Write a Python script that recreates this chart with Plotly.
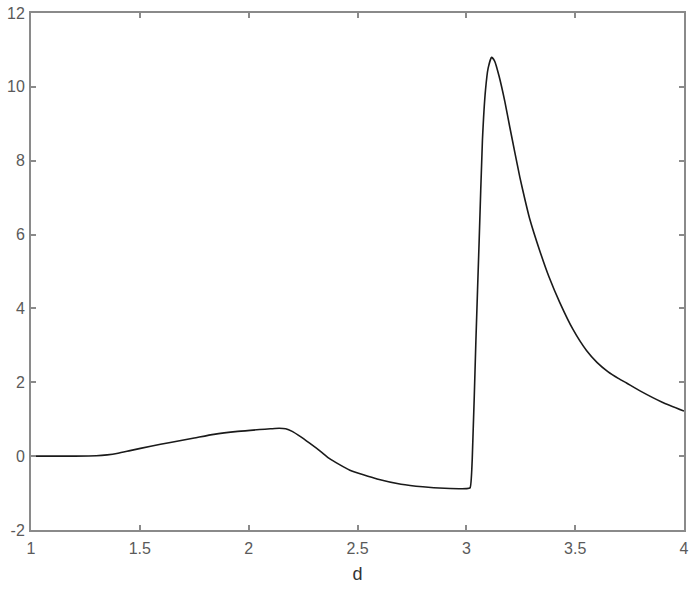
import plotly.graph_objects as go

# curve
d_vals = [1.0, 1.2, 1.3, 1.35, 1.4, 1.455, 1.55, 1.64, 1.75, 1.84, 1.95, 2.05, 2.10,
          2.14, 2.17, 2.20, 2.24, 2.28, 2.33, 2.37, 2.465, 2.59, 2.7, 2.8, 2.9, 3.0,
          3.017, 3.027, 3.044, 3.059, 3.074, 3.088, 3.10, 3.116, 3.13, 3.15, 3.177,
          3.20, 3.223, 3.246, 3.27, 3.29, 3.338, 3.38, 3.43, 3.49, 3.552, 3.60, 3.65,
          3.70, 3.736, 3.8, 3.9, 4.0]
f_vals = [0.0, 0.0, 0.01, 0.035, 0.08, 0.15, 0.27, 0.37, 0.49, 0.59, 0.67, 0.72, 0.74,
          0.755, 0.74, 0.67, 0.52, 0.35, 0.13, -0.06, -0.38, -0.62, -0.76, -0.83, -0.87,
          -0.88, -0.86, -0.1, 3.14, 5.85, 8.56, 9.91, 10.5, 10.8, 10.7, 10.3, 9.6,
          8.9, 8.22, 7.55, 6.93, 6.45, 5.55, 4.85, 4.15, 3.43, 2.86, 2.54, 2.29,
          2.10, 1.98, 1.76, 1.46, 1.22]

x_ticks = [1, 1.5, 2, 2.5, 3, 3.5, 4]
x_labels = ["1", "1.5", "2", "2.5", "3", "3.5", "4"]
y_ticks = [-2, 0, 2, 4, 6, 8, 10, 12]
y_labels = ["-2", "0", "2", "4", "6", "8", "10", "12"]

axis_color = "#8a8a8a"
font = "Liberation Sans, Arial, sans-serif"

fig = go.Figure()
fig.add_trace(go.Scatter(
    x=d_vals, y=f_vals, mode="lines",
    line=dict(color="#1a1a1a", width=1.6, shape="spline", smoothing=0.5),
    showlegend=False,
))

common = dict(
    showline=True, linecolor=axis_color, linewidth=2, mirror="allticks",
    ticks="inside", ticklen=5, tickwidth=1.5, tickcolor=axis_color,
    showgrid=False, zeroline=False, automargin=False,
    ticklabeloverflow="allow",
    tickfont=dict(family=font, size=16, color="#5a5a5a"),
)

fig.update_xaxes(range=[1, 4], tickvals=x_ticks, ticktext=x_labels,
                 ticklabelstandoff=3,
                 title=dict(text="d", font=dict(family=font, size=18, color="#333333"),
                            standoff=11),
                 **common)
fig.update_yaxes(range=[-2, 12], tickvals=y_ticks, ticktext=y_labels,
                 ticklabelstandoff=1, **common)

fig.update_layout(
    width=692, height=589,
    margin=dict(l=31, r=8, t=13, b=59),
    plot_bgcolor="white", paper_bgcolor="white",
)

# drop the default body margin so the figure fills the window exactly
fig.write_html("out.html",
               config={"displayModeBar": False},
               post_script="document.body.style.margin='0';"
                           "document.body.style.overflow='hidden';")
